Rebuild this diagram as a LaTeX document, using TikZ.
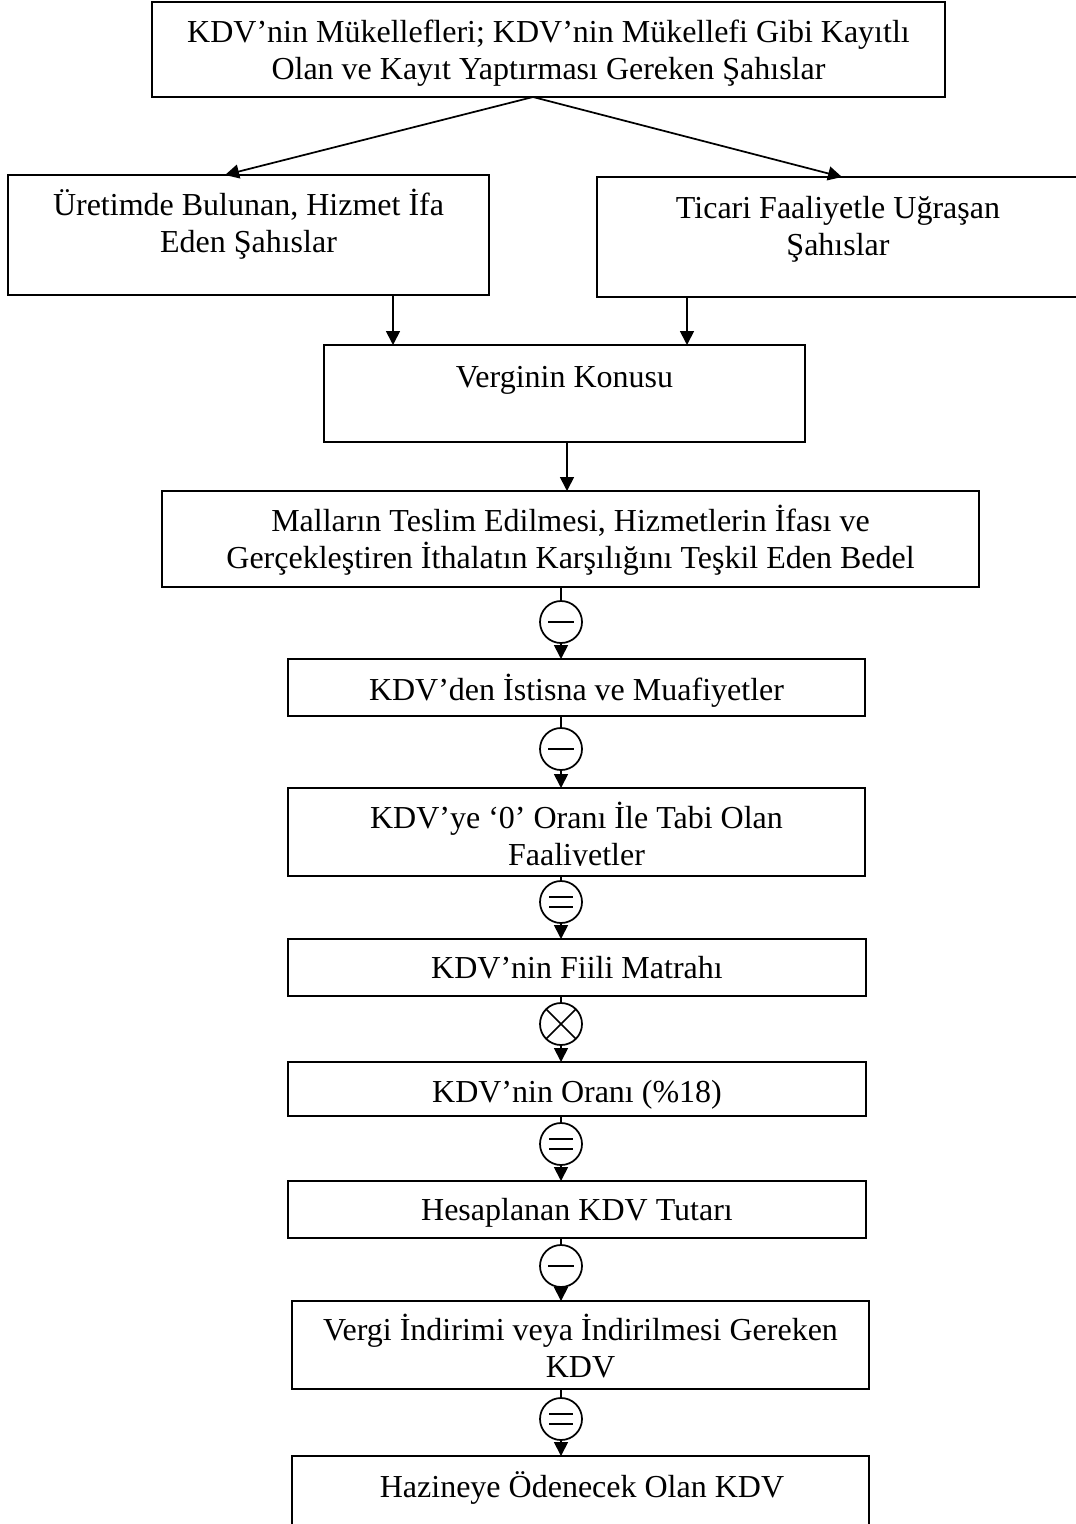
\documentclass[tikz,border=0pt]{standalone}
\usepackage{fontspec}
\setmainfont{Liberation Serif}
\usetikzlibrary{arrows.meta,fit}
\begin{document}
\begin{tikzpicture}[x=0.75pt,y=-0.75pt,line width=1.3pt,
  box/.style={draw, rectangle, inner sep=0pt, outer sep=0pt},
  % the base anchor of a two-line label is the baseline of its last line
  lbl/.style={inner sep=0pt, anchor=base, align=center,
    font=\fontsize{24pt}{27.6pt}\selectfont},
  arr/.style={-{Triangle[length=10.5pt,width=10.5pt]}},
  opc/.style={draw, circle, minimum size=31.5pt, inner sep=0pt, outer sep=0pt},
  opminus/.style={opc, path picture={
    \draw[line width=1.3pt] ([xshift=-9.4pt]path picture bounding box.center) -- ++(18.8pt,0pt);}},
  opequal/.style={opc, path picture={
    \draw[line width=1.3pt] ([xshift=-9pt,yshift=4pt]path picture bounding box.center) -- ++(18pt,0pt);
    \draw[line width=1.3pt] ([xshift=-9pt,yshift=-4pt]path picture bounding box.center) -- ++(18pt,0pt);}},
  optimes/.style={opc, path picture={
    \draw[line width=1.3pt] ([shift={(-12pt,-12pt)}]path picture bounding box.center) -- ++(24pt,24pt);
    \draw[line width=1.3pt] ([shift={(-12pt,12pt)}]path picture bounding box.center) -- ++(24pt,-24pt);}}
]
\useasboundingbox (0,0) rectangle (1075,1524);

% boxes
\node[box, fit={(152,2) (945,97)}] (top) {};
\node[box, fit={(8,175) (489,295)}] (left) {};
\node[box, fit={(597,177) (1079,297)}] (right) {};
\node[box, fit={(324,345) (805,442)}] (konu) {};
\node[box, fit={(162,491) (979,587)}] (mallar) {};
\node[box, fit={(288,659) (865,716)}] (istisna) {};
\node[box, fit={(288,788) (865,876)}] (sifir) {};
\node[box, fit={(288,939) (866,996)}] (fiili) {};
\node[box, fit={(288,1062) (866,1116)}] (oran) {};
\node[box, fit={(288,1181) (866,1238)}] (hesap) {};
\node[box, fit={(292,1301) (869,1389)}] (indirim) {};
\node[box, fit={(292,1456) (869,1540)}] (hazine) {};

% box texts
\node[lbl] (ttop) at (548.5,79) {KDV’nin Mükellefleri; KDV’nin Mükellefi Gibi Kayıtlı\\Olan ve Kayıt Yaptırması Gereken Şahıslar};
\node[lbl] (tleft) at (248.5,252) {Üretimde Bulunan, Hizmet İfa\\Eden Şahıslar};
\node[lbl] (tright) at (838,255) {Ticari Faaliyetle Uğraşan\\Şahıslar};
\node[lbl] (tkonu) at (564.5,387) {Verginin Konusu};
\node[lbl] (tmallar) at (570.5,568) {Malların Teslim Edilmesi, Hizmetlerin İfası ve\\Gerçekleştiren İthalatın Karşılığını Teşkil Eden Bedel};
\node[lbl] (tistisna) at (576.5,700) {KDV’den İstisna ve Muafiyetler};
% the text area of this box ends at the last baseline
\begin{scope}
  \clip (288,788) rectangle (865,865.5);
  \node[lbl] (tsifir) at (576.5,865) {KDV’ye ‘0’ Oranı İle Tabi Olan\\Faaliyetler};
\end{scope}
\node[lbl] (tfiili) at (577,978) {KDV’nin Fiili Matrahı};
\node[lbl] (toran) at (577,1102) {KDV’nin Oranı (\%18)};
\node[lbl] (thesap) at (577,1220) {Hesaplanan KDV Tutarı};
\node[lbl] (tindirim) at (580.5,1377) {Vergi İndirimi veya İndirilmesi Gereken\\KDV};
\node[lbl] (thazine) at (582,1497) {Hazineye Ödenecek Olan KDV};

% upper connectors
\coordinate (split) at (533,97);
\coordinate (colL) at (393,0);
\coordinate (colR) at (687,0);
\coordinate (colM) at (567,0);
\draw[arr] (split) -- ([xshift=-17.6pt]left.north);
\draw[arr] (split) -- ([xshift=3pt]right.north);
\draw[arr] (left.south -| colL) -- (konu.north -| colL);
\draw[arr] (right.south -| colR) -- (konu.north -| colR);
\draw[arr] (konu.south -| colM) -- (mallar.north -| colM);

% operator circles
\node[opminus] (c1) at (561,622) {};
\node[opminus] (c2) at (561,749) {};
\node[opequal] (c3) at (561,902) {};
\node[optimes] (c4) at (561,1024) {};
\node[opequal] (c5) at (561,1144) {};
\node[opminus] (c6) at (561,1266) {};
\node[opequal] (c7) at (561,1419) {};

\foreach \a/\c/\b in {mallar/c1/istisna, istisna/c2/sifir, sifir/c3/fiili,
                      fiili/c4/oran, oran/c5/hesap, hesap/c6/indirim, indirim/c7/hazine} {
  \draw (\a.south -| \c) -- (\c.north);
  \draw[arr] (\c.south) -- (\c |- \b.north);
}
\end{tikzpicture}
\end{document}
